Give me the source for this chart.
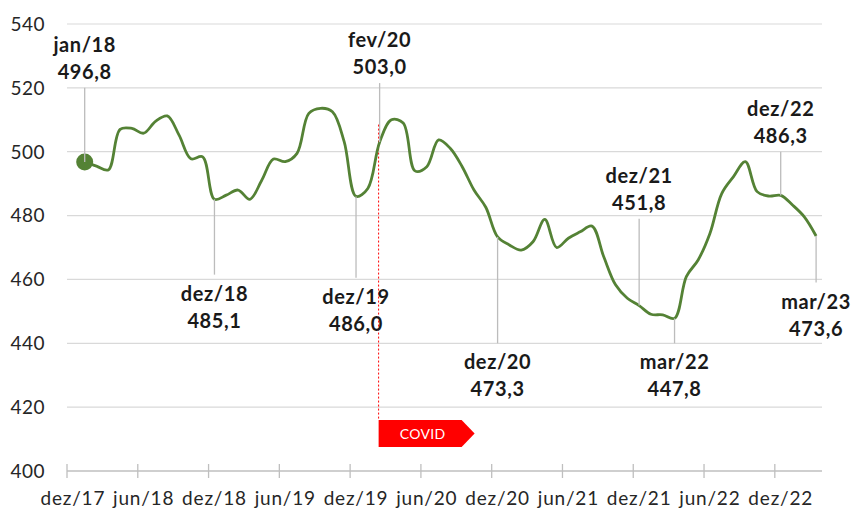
<!DOCTYPE html>
<html>
<head>
<meta charset="utf-8">
<script src="https://cdn.jsdelivr.net/npm/d3@7"></script>
<style>
  body { margin: 0; background: #fff; }
  text { font-family: Lato, 'Open Sans', sans-serif; }
</style>
</head>
<body>
<div id="chart"></div>
<script>
// categories on the axis (first one has no value)
const categories = [
  'dez/17',
  'jan/18', 'fev/18', 'mar/18', 'abr/18', 'mai/18', 'jun/18', 'jul/18', 'ago/18', 'set/18', 'out/18', 'nov/18', 'dez/18',
  'jan/19', 'fev/19', 'mar/19', 'abr/19', 'mai/19', 'jun/19', 'jul/19', 'ago/19', 'set/19', 'out/19', 'nov/19', 'dez/19',
  'jan/20', 'fev/20', 'mar/20', 'abr/20', 'mai/20', 'jun/20', 'jul/20', 'ago/20', 'set/20', 'out/20', 'nov/20', 'dez/20',
  'jan/21', 'fev/21', 'mar/21', 'abr/21', 'mai/21', 'jun/21', 'jul/21', 'ago/21', 'set/21', 'out/21', 'nov/21', 'dez/21',
  'jan/22', 'fev/22', 'mar/22', 'abr/22', 'mai/22', 'jun/22', 'jul/22', 'ago/22', 'set/22', 'out/22', 'nov/22', 'dez/22',
  'jan/23', 'fev/23', 'mar/23'
]

// values jan/18 .. mar/23
const values = [
  496.8, 495.5, 494.3, 507.0, 507.3, 505.8, 509.5, 511.2, 505.2, 497.8, 498.4, 485.1,
  486.4, 488.0, 485.1, 491.0, 497.7, 496.9, 499.5, 512.0, 513.6, 512.5, 503.1, 486.0,
  488.5, 503.0, 510.0, 509.0, 494.0, 495.3, 503.7, 501.0, 495.3, 488.0, 482.6, 473.3,
  470.8, 469.2, 471.8, 478.8, 470.0, 472.9, 474.9, 476.7, 467.1, 458.3, 454.1, 451.8,
  449.1, 448.9, 447.8, 460.9, 466.1, 474.4, 486.9, 492.2, 496.9, 487.5, 486.1, 486.3,
  483.3, 479.6, 473.6
]

const tickLabels = ['dez/17', 'jun/18', 'dez/18', 'jun/19', 'dez/19', 'jun/20', 'dez/20', 'jun/21', 'dez/21', 'jun/22', 'dez/22']
const yTicks = [400, 420, 440, 460, 480, 500, 520, 540]

const annotated = ['jan/18', 'dez/18', 'dez/19', 'fev/20', 'dez/20', 'dez/21', 'mar/22', 'dez/22', 'mar/23']
const covidMonth = 'fev/20'

// where each leader line stops (in chart units) and which side the label goes
const leaderLayout = {
  'jan/18': { end: 520, side: 'above' },
  'dez/18': { end: 461.5, side: 'below' },
  'dez/19': { end: 460.5, side: 'below' },
  'fev/20': { end: 521.5, side: 'above' },
  'dez/20': { end: 440, side: 'below' },
  'dez/21': { end: 479, side: 'above' },
  'mar/22': { end: 440, side: 'below' },
  'dez/22': { end: 500, side: 'above' },
  'mar/23': { end: 459, side: 'below' }
}

const width = 855
const height = 509
const margin = { top: 24, left: 67, right: 33, bottom: 38 }

const svg = d3
  .select('#chart')
  .append('svg')
  .attr('width', width)
  .attr('height', height)

const x = d3
  .scaleBand()
  .domain(categories)
  .range([margin.left, width - margin.right])
  .padding(0)

const y = d3
  .scaleLinear()
  .domain([400, 540])
  .range([height - margin.bottom, margin.top])

const cx = m => x(m) + x.bandwidth() / 2

const comma = d3.formatLocale({ decimal: ',', thousands: '.', grouping: [3], currency: ['', ''] }).format('.1f')

const datapoints = categories.slice(1).map((m, i) => ({ month: m, value: values[i] }))

// gridlines
svg
  .selectAll('.grid')
  .data(yTicks.filter(d => d > 400))
  .enter()
  .append('line')
  .attr('class', 'grid')
  .attr('x1', margin.left)
  .attr('x2', width - margin.right)
  .attr('y1', d => y(d))
  .attr('y2', d => y(d))
  .attr('stroke', '#d9d9d9')
  .attr('stroke-width', 1.2)

svg
  .selectAll('.y-label')
  .data(yTicks)
  .enter()
  .append('text')
  .attr('class', 'y-label')
  .attr('x', 45)
  .attr('y', d => y(d))
  .attr('dy', '0.36em')
  .attr('text-anchor', 'end')
  .attr('font-size', 19)
  .attr('letter-spacing', 0.5)
  .attr('fill', '#262626')
  .text(d => d)

// x axis
svg
  .append('line')
  .attr('x1', margin.left)
  .attr('x2', width - margin.right)
  .attr('y1', y(400))
  .attr('y2', y(400))
  .attr('stroke', '#bfbfbf')
  .attr('stroke-width', 1.3)

svg
  .selectAll('.x-tick')
  .data(tickLabels)
  .enter()
  .append('line')
  .attr('class', 'x-tick')
  .attr('x1', d => x(d))
  .attr('x2', d => x(d))
  .attr('y1', y(400) - 7)
  .attr('y2', y(400) + 7)
  .attr('stroke', '#bfbfbf')
  .attr('stroke-width', 1.3)

svg
  .selectAll('.x-label')
  .data(tickLabels)
  .enter()
  .append('text')
  .attr('class', 'x-label')
  .attr('x', d => cx(d))
  .attr('y', 505)
  .attr('text-anchor', 'middle')
  .attr('font-size', 19)
  .attr('letter-spacing', 0.8)
  .attr('fill', '#262626')
  .text(d => d)

// covid marker
const covidX = cx(covidMonth) - 1
svg
  .append('line')
  .attr('x1', covidX)
  .attr('x2', covidX)
  .attr('y1', y(508.5))
  .attr('y2', y(416))
  .attr('stroke', '#ff0000')
  .attr('stroke-width', 1)
  .attr('stroke-dasharray', '2,2')

const boxTop = y(416)
const boxBottom = y(407.5)
svg
  .append('path')
  .attr('d', 'M' + covidX + ',' + boxTop +
    'H' + (covidX + 83) +
    'L' + (covidX + 96) + ',' + (boxTop + boxBottom) / 2 +
    'L' + (covidX + 83) + ',' + boxBottom +
    'H' + covidX + 'Z')
  .attr('fill', '#ff0000')

svg
  .append('text')
  .attr('x', covidX + 44)
  .attr('y', (boxTop + boxBottom) / 2)
  .attr('dy', '0.36em')
  .attr('text-anchor', 'middle')
  .attr('font-size', 14)
  .attr('letter-spacing', 0.3)
  .attr('fill', '#fff')
  .text('COVID')

// the series
const line = d3
  .line()
  .x(d => cx(d.month))
  .y(d => y(d.value))
  .curve(d3.curveCatmullRom.alpha(0.5))

svg
  .append('path')
  .datum(datapoints)
  .attr('d', line)
  .attr('fill', 'none')
  .attr('stroke', '#548235')
  .attr('stroke-width', 2.8)
  .attr('stroke-linejoin', 'round')

svg
  .append('circle')
  .attr('cx', cx(datapoints[0].month))
  .attr('cy', y(datapoints[0].value))
  .attr('r', 8.5)
  .attr('fill', '#548235')

// annotations
const notes = datapoints.filter(d => annotated.includes(d.month))

svg
  .selectAll('.leader')
  .data(notes)
  .enter()
  .append('line')
  .attr('class', 'leader')
  .attr('x1', d => cx(d.month))
  .attr('x2', d => cx(d.month))
  .attr('y1', d => y(d.value))
  .attr('y2', d => y(leaderLayout[d.month].end))
  .attr('stroke', '#bcbcbc')
  .attr('stroke-width', 1.3)

const noteText = svg
  .selectAll('.note')
  .data(notes)
  .enter()
  .append('text')
  .attr('class', 'note')
  .attr('text-anchor', 'middle')
  .attr('font-size', 20)
  .attr('font-weight', 700)
  .attr('letter-spacing', 0.6)
  .attr('fill', '#1a1a1a')

noteText
  .append('tspan')
  .attr('x', d => cx(d.month))
  .attr('y', d => {
    const l = leaderLayout[d.month]
    return l.side === 'above' ? y(l.end) - 36 : y(l.end) + 26
  })
  .text(d => d.month)

noteText
  .append('tspan')
  .attr('x', d => cx(d.month))
  .attr('y', d => {
    const l = leaderLayout[d.month]
    return l.side === 'above' ? y(l.end) - 9 : y(l.end) + 53
  })
  .text(d => comma(d.value))
</script>
</body>
</html>
